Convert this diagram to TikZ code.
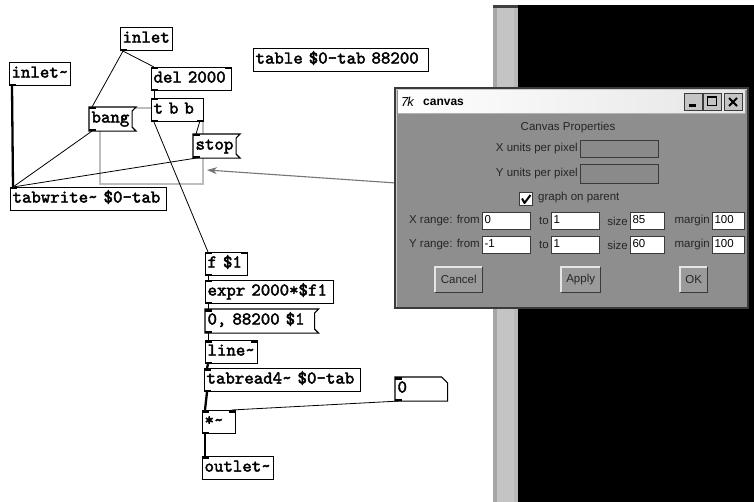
\documentclass[tikz,border=0pt]{standalone}
\usepackage{fontspec}
\setmainfont{Liberation Sans}
\newfontfamily\pdmono{lmmono10-regular.otf}[FakeBold=2.2]
\usetikzlibrary{arrows.meta}
\pgfdeclarelayer{bg}
\pgfdeclarelayer{back}
\pgfdeclarelayer{mid}
\pgfsetlayers{bg,back,mid,main}
\definecolor{dlgbg}{HTML}{8E8E8E}
\definecolor{dlgtext}{HTML}{262626}
\definecolor{gopgray}{HTML}{BDBDBD}
\definecolor{arrgray}{HTML}{767676}
\definecolor{stripgray}{HTML}{C4C4C4}
\definecolor{btnface}{HTML}{9A9A9A}
\definecolor{fieldgray}{HTML}{8A8A8A}
\definecolor{edgedark}{HTML}{3A3A3A}
\newcommand\pdt{\textasciitilde}
\newcommand\msgflag[1]{\begin{pgfonlayer}{mid}\draw[line width=1.1pt,fill=white] (#1.north west) -- ([xshift=4pt]#1.north east) -- ([yshift=-4pt]#1.north east) -- ([yshift=4pt]#1.south east) -- ([xshift=4pt]#1.south east) -- (#1.south west) -- cycle;\end{pgfonlayer}}
\newcommand\atomshape[1]{\begin{pgfonlayer}{mid}\draw[line width=1.1pt,fill=white] (#1.north west) -- ([xshift=-6pt]#1.north east) -- ([yshift=-6pt]#1.north east) -- (#1.south east) -- (#1.south west) -- cycle;\end{pgfonlayer}}
\newcommand\inTL[1]{\fill (#1.north west) rectangle ++(7,2.5);}
\newcommand\inTR[1]{\fill (#1.north east) rectangle ++(-7,2.5);}
\newcommand\outBL[1]{\fill (#1.south west) rectangle ++(7,-2.5);}
\newcommand\outBR[1]{\fill (#1.south east) rectangle ++(-7,-2.5);}
\begin{document}
\begin{tikzpicture}[x=1pt,y=-1pt,
  obj/.style={draw=black,line width=1.1pt,fill=white,anchor=north west,
    font=\pdmono\fontsize{18}{18}\selectfont,inner xsep=2pt,inner ysep=0pt,
    minimum height=23pt,text height=9.5pt,text depth=2.5pt,align=left},
  msg/.style={obj,draw=none,fill=none},
  ctl/.style={line width=0.8pt},
  sig/.style={line width=2.3pt},
  dtext/.style={font=\fontsize{11.5}{12}\selectfont,text=dlgtext,inner sep=0pt},
  field/.style={draw=edgedark,fill=white,line width=1pt,anchor=north west,inner xsep=2pt,inner ysep=0pt,
    minimum height=17pt,text height=8pt,text depth=2pt,font=\fontsize{11.5}{12}\selectfont,align=left},
  dbutton/.style={fill=btnface,anchor=north west,minimum height=25pt,inner sep=0pt,
    font=\fontsize{11.5}{12}\selectfont,text=dlgtext},
  tbtn/.style={fill=stripgray,draw=edgedark,line width=0.8pt,anchor=north west,minimum width=18pt,minimum height=17pt,inner sep=0pt}
]
\useasboundingbox (0,0) rectangle (754,502);
\begin{pgfonlayer}{bg}
\fill[white] (0,0) rectangle (754,502);
\end{pgfonlayer}

% right side: scroll strip and black area
\fill[black] (518,5) rectangle (754,502);
\fill[stripgray] (493,5) rectangle (518,502);
\fill[gray!70] (493,5) rectangle (497,502);
\fill[gray!55] (514,5) rectangle (518,502);
\fill[black!75] (493,5) rectangle (518,8);

% graph-on-parent area
\coordinate (gopA) at (100,108);
\coordinate (gopB) at (203,184);
\begin{pgfonlayer}{back}
\draw[gopgray,line width=1.2pt] (gopA) rectangle (gopB);
\end{pgfonlayer}

% Pd objects
\node[obj,text width=47.5pt] (inl) at (120,27) {inlet};
\node[obj,text width=57pt] (ins) at (9,62) {inlet\pdt};
\node[obj,text width=76pt] (del) at (151,67) {del 2000};
\node[obj,text width=47.5pt] (tbb) at (151,98) {t b b};
\node[msg,text width=38pt] (bang) at (89,107) {bang};
\node[msg,text width=38pt] (stop) at (193,134) {stop};
\node[obj,text width=152pt] (tw) at (10,187) {tabwrite\pdt{} \$0-tab};
\node[obj,text width=171pt] (tab) at (253,48) {table \$0-tab 88200};
\node[obj,text width=38pt] (fl) at (205,252) {f \$1};
\node[obj,text width=123.5pt] (expr) at (205,280) {expr 2000*\$f1};
\node[msg,text width=104.5pt] (m88) at (205,309) {0, 88200 \$1};
\node[obj,text width=47.5pt] (lin) at (205,340) {line\pdt};
\node[obj,text width=152pt] (trd) at (204,368) {tabread4\pdt{} \$0-tab};
\node[msg,text width=47.5pt] (num) at (395,377) {0};
\node[obj,text width=28.5pt] (mul) at (202,410) {*\pdt};
\node[obj,text width=66.5pt] (outs) at (202,456) {outlet\pdt};
\msgflag{bang}
\msgflag{stop}
\msgflag{m88}
\atomshape{num}

% inlets / outlets
\outBL{inl}
\outBL{ins}
\inTL{del}\inTR{del}\outBL{del}
\inTL{tbb}\outBL{tbb}\outBR{tbb}
\inTL{bang}\outBL{bang}
\inTL{stop}\outBL{stop}
\inTL{tw}
\inTL{fl}\inTR{fl}\outBL{fl}
\inTL{expr}\outBL{expr}
\inTL{m88}\outBL{m88}
\inTL{lin}\inTR{lin}\outBL{lin}
\inTL{trd}\outBL{trd}
\inTL{num}\outBL{num}
\inTL{mul}\inTR{mul}\outBL{mul}
\inTL{outs}

% connections
\begin{pgfonlayer}{back}
\draw[ctl] ([xshift=3pt]inl.south west) -- ([xshift=3pt]bang.north west);
\draw[ctl] ([xshift=3pt]inl.south west) -- ([xshift=3pt]del.north west);
\draw[ctl] ([xshift=3pt]del.south west) -- ([xshift=3pt]tbb.north west);
\draw[ctl] ([xshift=3pt]tbb.south west) -- ([xshift=3pt]fl.north west);
\draw[ctl] ([xshift=-4pt]tbb.south east) -- ([xshift=3pt]stop.north west);
\draw[ctl] ([xshift=3pt]bang.south west) -- ([xshift=3pt]tw.north west);
\draw[ctl] ([xshift=3pt]stop.south west) -- ([xshift=3pt]tw.north west);
\draw[sig] ([xshift=3pt]ins.south west) -- ([xshift=3pt]tw.north west);
\draw[ctl] ([xshift=3pt]fl.south west) -- ([xshift=3pt]expr.north west);
\draw[ctl] ([xshift=3pt]expr.south west) -- ([xshift=3pt]m88.north west);
\draw[ctl] ([xshift=3pt]m88.south west) -- ([xshift=3pt]lin.north west);
\draw[sig] ([xshift=3pt]lin.south west) -- ([xshift=3pt]trd.north west);
\draw[sig] ([xshift=3pt]trd.south west) -- ([xshift=3pt]mul.north west);
\draw[ctl] ([xshift=3pt]num.south west) -- ([xshift=-4pt]mul.north east);
\draw[sig] ([xshift=3pt]mul.south west) -- ([xshift=3pt]outs.north west);
\end{pgfonlayer}

% pointer arrow
\coordinate (arrS) at (396,183);
\coordinate (arrE) at (207,170);
\draw[arrgray,line width=1.1pt,-{Stealth[length=10pt,width=7pt]}] (arrS) -- (arrE);

% dialog window
\fill[dlgbg] (395,88) rectangle (748,308);
\draw[edgedark,line width=1.2pt] (395,88) rectangle (748,308);
\draw[gray!40,line width=1pt] (396.5,307) -- (396.5,89.5) -- (747,89.5);
\shade[left color=white,right color=gray!20] (398,91) rectangle (745,113);
\draw[gray!60,line width=0.8pt] (398,113) -- (745,113);
\node[anchor=west,inner sep=0pt,font=\fontsize{13}{13}\selectfont\itshape] (tkicon) at (401,102) {7\kern-1pt k};
\node[anchor=west,inner sep=0pt,font=\bfseries\fontsize{12}{12}\selectfont] (ttl) at (423,102) {canvas};
\node[tbtn] (bmin) at (684,93) {};
\node[tbtn] (bmax) at (703,93) {};
\node[tbtn] (bcls) at (724,93) {};
\fill (689,104) rectangle (696,107);
\draw[line width=1pt] (707.5,97.5) rectangle (716.5,106);
\fill (707,96.5) rectangle (717,98.5);
\draw[line width=2pt] (729,98) -- (737,106) (737,98) -- (729,106);

\node[dtext] (cp) at (568,128) {Canvas Properties};
\node[dtext,anchor=east] (lxu) at (578,149) {X units per pixel};
\node[field,fill=fieldgray,minimum width=78pt] (fxu) at (580,140) {};
\node[dtext,anchor=east] (lyu) at (578,174) {Y units per pixel};
\node[field,fill=fieldgray,minimum width=78pt,minimum height=19pt] (fyu) at (580,164) {};

\node[draw=edgedark,fill=white,line width=1pt,anchor=north west,minimum width=13pt,minimum height=13pt,inner sep=0pt] (chk) at (519,192) {};
\draw[line width=2pt,line join=round] ([shift={(3pt,-6.5pt)}]chk.north west) -- ([shift={(5.5pt,3pt)}]chk.south west) -- ([shift={(-2.5pt,-3pt)}]chk.north east);
\node[dtext,anchor=west] (gop) at (538,198) {graph on parent};

\node[dtext,anchor=east] (lxr) at (480,221) {X range: from};
\node[field,text width=44pt] (fx0) at (482,212) {0};
\node[dtext,anchor=east] (lxt) at (549,221) {to};
\node[field,text width=44pt] (fx1) at (551,212) {1};
\node[dtext,anchor=east] (lxs) at (628,221) {size};
\node[field,text width=30pt] (fxs) at (630,212) {85};
\node[dtext,anchor=east] (lxm) at (710,221) {margin};
\node[field,text width=28pt] (fxm) at (712,212) {100};

\node[dtext,anchor=east] (lyr) at (480,245) {Y range: from};
\node[field,text width=44pt] (fy0) at (482,236) {-1};
\node[dtext,anchor=east] (lyt) at (549,245) {to};
\node[field,text width=44pt] (fy1) at (551,236) {1};
\node[dtext,anchor=east] (lys) at (628,245) {size};
\node[field,text width=30pt] (fys) at (630,236) {60};
\node[dtext,anchor=east] (lym) at (710,245) {margin};
\node[field,text width=28pt] (fym) at (712,236) {100};

\node[dbutton,minimum width=47pt] (bcan) at (435,267) {Cancel};
\node[dbutton,minimum width=39pt] (bapp) at (561,267) {Apply};
\node[dbutton,minimum width=27pt] (bok) at (680,267) {OK};
\foreach \b in {bcan,bapp,bok}{
  \draw[gray!20,line width=1.2pt] (\b.south west) -- (\b.north west) -- (\b.north east);
  \draw[edgedark,line width=1.2pt] (\b.north east) -- (\b.south east) -- (\b.south west);
}
\end{tikzpicture}
\end{document}
